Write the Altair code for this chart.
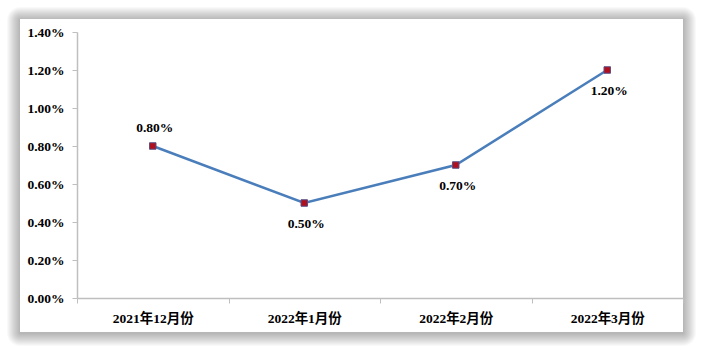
import altair as alt
import pandas as pd

months = ["2021年12月份", "2022年1月份", "2022年2月份", "2022年3月份"]
rates = [0.008, 0.005, 0.007, 0.012]
label_side = ["above", "below", "below", "below"]
y_ticks = [0, 0.002, 0.004, 0.006, 0.008, 0.010, 0.012, 0.014]

df = pd.DataFrame({"month": months, "rate": rates, "side": label_side})

W, H = 606, 266
FONT = "Liberation Serif, Noto Sans CJK SC"
AXIS_GRAY = "#bfbfbf"
FS = 13.5

x_enc = alt.X(
    "month:N",
    sort=months,
    scale=alt.Scale(type="band", paddingInner=0, paddingOuter=0),
    axis=alt.Axis(
        title=None, labelAngle=0, tickBand="extent", domainColor=AXIS_GRAY,
        tickColor=AXIS_GRAY, tickSize=5, labelPadding=8, labelFont=FONT,
        labelFontSize=FS, labelFontWeight="bold", labelColor="#000000",
        zindex=1, domainWidth=1.5,
    ),
)
y_enc = alt.Y(
    "rate:Q",
    scale=alt.Scale(domain=[0, 0.014], nice=False),
    axis=alt.Axis(
        title=None, format=".2%", values=y_ticks, grid=False,
        domainColor=AXIS_GRAY, tickColor=AXIS_GRAY, tickSize=5,
        labelPadding=8, labelFont=FONT, labelFontSize=FS,
        labelFontWeight="bold", labelColor="#000000", zindex=1, domainWidth=1.5,
    ),
)

# decorative framed box with soft shadow
blank = alt.Data(values=[{}])
deco = []
for g in range(13, 0, -1):
    deco.append(
        alt.Chart(blank).mark_rect(color="#000000", opacity=0.022, cornerRadius=g).encode(
            x=alt.value(-57 - g), x2=alt.value(606 + g),
            y=alt.value(-13 - g + 1), y2=alt.value(300 + g + 1),
        )
    )
deco.append(
    alt.Chart(blank).mark_rect(color="#ffffff").encode(
        x=alt.value(-57), x2=alt.value(606), y=alt.value(-13), y2=alt.value(300)
    )
)

base = alt.Chart(df)
line = base.mark_line(color="#4a7ebb", strokeWidth=2.5).encode(x=x_enc, y=y_enc)
pts = base.mark_point(
    shape="square", filled=True, size=42, fill="#b0101e", stroke="#5a4f86",
    strokeWidth=1, opacity=1,
).encode(x=x_enc, y=y_enc)
txt_above = base.transform_filter(alt.datum.side == "above").mark_text(
    font=FONT, fontSize=FS, fontWeight="bold", color="#000000", dy=-18, dx=2
).encode(x=x_enc, y=y_enc, text=alt.Text("rate:Q", format=".2%"))
txt_below = base.transform_filter(alt.datum.side == "below").mark_text(
    font=FONT, fontSize=FS, fontWeight="bold", color="#000000", dy=21, dx=2
).encode(x=x_enc, y=y_enc, text=alt.Text("rate:Q", format=".2%"))

chart = alt.layer(*deco, line, pts, txt_above, txt_below).properties(
    width=W, height=H,
    autosize=alt.AutoSizeParams(type="none"),
    padding={"left": 77, "top": 32, "right": 19, "bottom": 54},
    background="#ffffff",
).configure_view(stroke=None)

chart.save("out.html", embed_options={"renderer": "svg", "actions": False})
